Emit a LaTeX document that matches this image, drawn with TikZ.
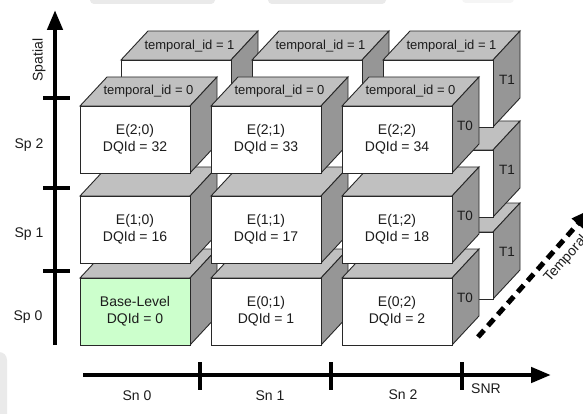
\documentclass[tikz,border=0pt]{standalone}
\usepackage{fontspec}
\setmainfont{Liberation Sans}
\usetikzlibrary{arrows.meta}

\definecolor{topgrey}{RGB}{192,192,192}
\definecolor{sidegrey}{RGB}{150,150,150}
\definecolor{edgecol}{RGB}{40,40,40}
\definecolor{baselevel}{RGB}{204,255,204}
\definecolor{haze}{RGB}{234,234,234}
\definecolor{ink}{RGB}{28,28,28}

% one coded picture: top face, side face and front face,
% placed by the top-left corner of its front face
\newcommand\cubeat[3]{%
  \begin{scope}[shift={(#1,#2)}]
    \filldraw[edgeline,fill=topgrey]  (0,0) -- (110,0) -- (137,-29) -- (27,-29) -- cycle;
    \filldraw[edgeline,fill=sidegrey] (110,0) -- (137,-29) -- (137,38) -- (110,67) -- cycle;
    \filldraw[edgeline,fill=#3] (0,0) rectangle (110,67);
  \end{scope}}

\begin{document}
\begin{tikzpicture}[x=1pt,y=-1pt,
  edgeline/.style={draw=edgecol,line width=0.9pt},
  facetext/.style={text=ink,align=center,font=\fontsize{14}{17}\selectfont},
  toptext/.style={text=ink,font=\fontsize{13}{15}\selectfont},
  sidetext/.style={text=ink,font=\fontsize{13.5}{15}\selectfont},
  axislabel/.style={text=ink,font=\fontsize{14}{16}\selectfont},
  axisline/.style={line width=4.5pt,draw=black},
  tickline/.style={line width=4pt,draw=black},
  tip/.style={-{Triangle[length=20pt,width=15pt]}}]

\useasboundingbox (0,0) rectangle (583,414);
\clip (0,0) rectangle (583,414);
\fill[white] (0,0) rectangle (583,414);

% faint page remnants along the edges
\fill[haze,rounded corners=4pt] (90,-10) rectangle (215,4);
\fill[haze,rounded corners=4pt] (268,-10) rectangle (386,4);
\fill[haze!50,rounded corners=4pt] (462,-10) rectangle (514,3);
\fill[haze,rounded corners=8pt] (-12,352) rectangle (7,430);

% temporal layer T1 (behind)
\foreach \yy in {232,150,60}
  \foreach \xx in {121,252,383}
    {\cubeat{\xx}{\yy}{white}}

% temporal layer T0 (front)
\cubeat{80}{278}{baselevel}
\cubeat{211}{278}{white}
\cubeat{342}{278}{white}
\foreach \yy in {196,106}
  \foreach \xx in {80,211,342}
    {\cubeat{\xx}{\yy}{white}}

% labels on the top faces
\node[toptext] (t1a) at (189.5,46.5) {temporal\_id = 1};
\node[toptext] (t1b) at (320.5,46.5) {temporal\_id = 1};
\node[toptext] (t1c) at (451.5,46.5) {temporal\_id = 1};
\node[toptext] (t0a) at (148.5,91.5) {temporal\_id = 0};
\node[toptext] (t0b) at (279.5,91.5) {temporal\_id = 0};
\node[toptext] (t0c) at (410.5,91.5) {temporal\_id = 0};

% labels on the side faces
\node[sidetext] (s1a) at (507,80) {T1};
\node[sidetext] (s1b) at (507,170) {T1};
\node[sidetext] (s1c) at (507,252) {T1};
\node[sidetext] (s0a) at (465,126) {T0};
\node[sidetext] (s0b) at (465,216) {T0};
\node[sidetext] (s0c) at (465,298) {T0};

% labels on the front faces
\node[facetext] (e20) at (135,139) {E(2;0)\\DQId = 32};
\node[facetext] (e21) at (266,139) {E(2;1)\\DQId = 33};
\node[facetext] (e22) at (397,139) {E(2;2)\\DQId = 34};
\node[facetext] (e10) at (135,229) {E(1;0)\\DQId = 16};
\node[facetext] (e11) at (266,229) {E(1;1)\\DQId = 17};
\node[facetext] (e12) at (397,229) {E(1;2)\\DQId = 18};
\node[facetext] (e00) at (135,311) {Base-Level\\DQId = 0};
\node[facetext] (e01) at (266,311) {E(0;1)\\DQId = 1};
\node[facetext] (e02) at (397,311) {E(0;2)\\DQId = 2};

% spatial axis
\coordinate (vbot) at (55,345);
\coordinate (vtop) at (55,10);
\draw[axisline,tip] (vbot) -- (vtop);
\foreach \ty/\tn in {98/a,188/b,271/c}{
  \coordinate (vt\tn l) at (43,\ty);
  \coordinate (vt\tn r) at (70,\ty);
  \draw[tickline] (vt\tn l) -- (vt\tn r);
}
\node[axislabel,rotate=90] (spatial) at (39,60) {Spatial};
\node[axislabel] (sp2) at (29,145) {Sp 2};
\node[axislabel] (sp1) at (29,234) {Sp 1};
\node[axislabel] (sp0) at (28,317) {Sp 0};

% SNR axis
\coordinate (hleft) at (83,375);
\coordinate (hright) at (551,375);
\draw[axisline,tip] (hleft) -- (hright);
\foreach \tx/\tn in {200/a,331/b,462/c}{
  \coordinate (ht\tn t) at (\tx,362);
  \coordinate (ht\tn b) at (\tx,390);
  \draw[tickline] (ht\tn t) -- (ht\tn b);
}
\node[axislabel] (sn0) at (137,396) {Sn 0};
\node[axislabel] (sn1) at (270,396) {Sn 1};
\node[axislabel] (sn2) at (403,395) {Sn 2};
\node[axislabel] (snr) at (486,389) {SNR};

% temporal axis, running off the right edge
\coordinate (tstart) at (478,337);
\coordinate (tend) at (591,209);
\draw[line width=5pt,dash pattern=on 9pt off 6pt,tip] (tstart) -- (tend);
\node[axislabel,rotate=48.5] (temporal) at (566,259) {Temporal};

\end{tikzpicture}
\end{document}
